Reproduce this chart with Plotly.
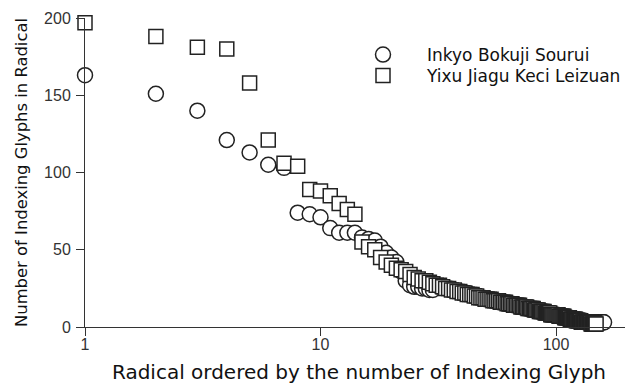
import plotly.graph_objects as go

# Inkyo Bokuji Sourui (circles), values by rank
inkyo_values = [
    163, 151, 140, 121, 113, 105, 103, 74, 73, 71,
    64, 61, 61, 61, 58, 57, 56, 52, 48, 45,
    42, 36, 30, 27, 26, 26, 25, 25, 24, 24,
    27, 26, 26, 25, 25, 24, 24, 23, 23, 22,
    22, 22, 21, 21, 20, 20, 20, 19, 19, 18,
    18, 18, 18, 17, 17, 17, 16, 16, 16, 16,
    15, 15, 15, 15, 15, 14, 14, 14, 14, 13,
    13, 13, 13, 13, 12, 12, 12, 12, 12, 11,
    11, 11, 11, 11, 10, 10, 10, 10, 10, 9,
    9, 9, 9, 9, 9, 8, 8, 8, 8, 8,
    8, 7, 7, 7, 7, 7, 7, 6, 6, 6,
    6, 6, 6, 6, 6, 5, 5, 5, 5, 5,
    5, 5, 4, 4, 4, 4, 4, 4, 4, 4,
    4, 4, 3, 3, 3, 3, 3, 3, 3, 3,
    3, 3, 3, 3, 3, 3, 3, 3, 3, 3,
    3, 3, 3, 3, 3, 3, 3, 3, 3, 3,
]

# Yixu Jiagu Keci Leizuan (squares), values by rank
yixu_values = [
    197, 188, 181, 180, 158, 121, 106, 104, 89, 88,
    85, 80, 76, 73, 55, 52, 50, 45, 42, 40,
    38, 37, 36, 34, 32, 31, 30, 30, 29, 28,
    27, 27, 26, 25, 25, 24, 24, 23, 23, 22,
    22, 21, 21, 21, 20, 20, 19, 19, 19, 18,
    18, 18, 18, 17, 17, 17, 17, 16, 16, 16,
    16, 15, 15, 15, 15, 14, 14, 14, 14, 14,
    13, 13, 13, 13, 13, 12, 12, 12, 12, 12,
    11, 11, 11, 11, 10, 10, 10, 10, 10, 9,
    9, 9, 9, 9, 8, 8, 8, 8, 8, 8,
    8, 8, 7, 7, 7, 7, 7, 7, 6, 6,
    6, 6, 6, 6, 5, 5, 5, 5, 5, 5,
    5, 4, 4, 4, 4, 4, 4, 3, 3, 3,
    3, 3, 3, 3, 3, 3, 3, 3, 3, 3,
    2, 2, 2, 2, 2, 2, 2, 2,
]

inkyo_rank = list(range(1, len(inkyo_values) + 1))
yixu_rank = list(range(1, len(yixu_values) + 1))

x_tick_vals = [1, 10, 100]
x_tick_text = ["1", "10", "100"]
y_tick_vals = [0, 50, 100, 150, 200]

series_names = ["Inkyo Bokuji Sourui", "Yixu Jiagu Keci Leizuan"]

line_col = "#222222"

# page has an 8px body margin; figure is sized so that it fills the window
PAGE_OFF = 8
PLOT_L, PLOT_T, PLOT_R, PLOT_B = 85, 18, 633, 327
plot_w = PLOT_R - PLOT_L
plot_h = PLOT_B - PLOT_T

fig = go.Figure()
fig.add_trace(go.Scatter(
    x=inkyo_rank, y=inkyo_values, mode="markers", name=series_names[0],
    marker=dict(symbol="circle", size=15, color="white",
                line=dict(color=line_col, width=1.5)),
    cliponaxis=False, legend="legend",
))
fig.add_trace(go.Scatter(
    x=yixu_rank, y=yixu_values, mode="markers", name=series_names[1],
    marker=dict(symbol="square", size=14, color="white",
                line=dict(color=line_col, width=1.5)),
    cliponaxis=False, legend="legend2",
))

tick_font = dict(family="Liberation Sans Narrow, Liberation Sans, Arial", size=16, color="#333333")
legend_font = dict(family="DejaVu Sans", size=17, color="#111111")
LEG_X = (339 - PLOT_L) / plot_w

fig.update_layout(
    width=633 - PAGE_OFF, height=385 - PAGE_OFF,
    margin=dict(l=PLOT_L - PAGE_OFF, r=0, t=PLOT_T - PAGE_OFF, b=385 - PLOT_B),
    paper_bgcolor="white", plot_bgcolor="white",
    showlegend=True,
    legend=dict(
        x=LEG_X, y=1 - (37 - PLOT_T) / plot_h,
        xanchor="left", yanchor="top",
        bgcolor="rgba(0,0,0,0)", font=legend_font, itemwidth=78,
    ),
    legend2=dict(
        x=LEG_X, y=1 - (58 - PLOT_T) / plot_h,
        xanchor="left", yanchor="top",
        bgcolor="rgba(0,0,0,0)", font=legend_font, itemwidth=78,
    ),
    xaxis=dict(
        type="log", range=[0, plot_w / 235.5],
        automargin=False,
        showgrid=False, zeroline=False,
        showline=True, linecolor="#333333", linewidth=1,
        ticks="outside", ticklen=8, tickcolor="#333333",
        tickvals=x_tick_vals, ticktext=x_tick_text,
        tickfont=tick_font, ticklabelstandoff=-5,
        title=dict(text="Radical ordered by the number of Indexing Glyph",
                   font=dict(family="DejaVu Sans", size=20, color="#111111"),
                   standoff=12),
    ),
    yaxis=dict(
        range=[0, 200],
        automargin=False,
        showgrid=False, zeroline=False,
        showline=True, linecolor="#333333", linewidth=1,
        ticks="outside", ticklen=8, tickcolor="#333333",
        tickvals=y_tick_vals,
        tickfont=tick_font, ticklabelstandoff=2,
        title=dict(text="Number of Indexing Glyphs in Radical",
                   font=dict(family="DejaVu Sans", size=16.4, color="#111111"),
                   standoff=12),
    ),
)

fig.write_html("out.html")
